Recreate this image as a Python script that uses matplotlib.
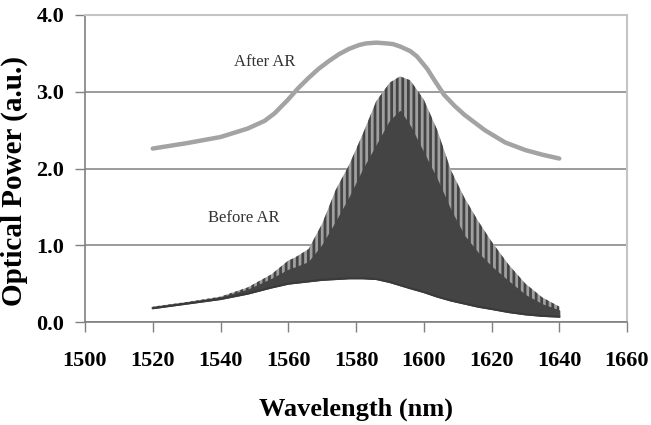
import matplotlib
matplotlib.use("Agg")
import matplotlib.pyplot as plt

plt.rcParams['font.family'] = ['Liberation Serif', 'DejaVu Serif']
plt.rcParams['hatch.linewidth'] = 2.0

# After AR spectrum (smooth)
after_nm = [1520, 1530, 1540, 1548, 1553, 1556, 1560, 1563, 1566, 1569, 1572, 1575, 1578,
            1581, 1583, 1586, 1589, 1591, 1593, 1596, 1598, 1601, 1603, 1606, 1609, 1612,
            1615, 1618, 1621, 1624, 1627, 1630, 1635, 1640]
after_pw = [2.26, 2.33, 2.41, 2.52, 2.62, 2.72, 2.90, 3.05, 3.18, 3.30, 3.40, 3.49, 3.56,
            3.61, 3.63, 3.64, 3.63, 3.62, 3.59, 3.53, 3.46, 3.30, 3.16, 2.96, 2.82, 2.70,
            2.60, 2.50, 2.42, 2.34, 2.29, 2.24, 2.18, 2.13]

# Before AR spectrum (Fabry-Perot fringes): envelopes
before_nm = [1520, 1530, 1540, 1548, 1555, 1560, 1562, 1566, 1570, 1574, 1578, 1582, 1586,
             1590, 1593, 1596, 1600, 1604, 1608, 1612, 1616, 1620, 1625, 1630, 1635, 1640]
before_top = [0.20, 0.26, 0.33, 0.45, 0.62, 0.80, 0.84, 0.95, 1.28, 1.72, 2.05, 2.45, 2.88,
              3.12, 3.20, 3.15, 2.90, 2.50, 1.98, 1.62, 1.32, 1.05, 0.75, 0.50, 0.32, 0.20]
before_core = [0.19, 0.25, 0.32, 0.42, 0.56, 0.68, 0.71, 0.78, 1.00, 1.30, 1.62, 1.98, 2.30,
               2.62, 2.75, 2.55, 2.20, 1.85, 1.45, 1.12, 0.90, 0.72, 0.53, 0.35, 0.23, 0.15]
before_low = [0.18, 0.24, 0.30, 0.37, 0.45, 0.50, 0.51, 0.53, 0.55, 0.56, 0.57, 0.57, 0.56,
              0.52, 0.48, 0.44, 0.39, 0.33, 0.28, 0.24, 0.20, 0.17, 0.13, 0.10, 0.08, 0.07]

x_ticks = [1500, 1520, 1540, 1560, 1580, 1600, 1620, 1640, 1660]
y_ticks = [0.0, 1.0, 2.0, 3.0, 4.0]

fig = plt.figure(figsize=(6.51, 4.25), dpi=100)
ax = fig.add_axes([85 / 651, 1 - 322 / 425, 542 / 651, 307 / 425])

# fringes: dark body, striped light-gray tops
ax.fill_between(before_nm, before_low, before_top, facecolor='#a0a0a0',
                edgecolor='#444444', hatch='|||', linewidth=0, zorder=2)
ax.fill_between(before_nm, before_low, before_core, facecolor='#444444',
                edgecolor='#444444', linewidth=0.8, zorder=3)
ax.plot(before_nm, before_low, color='#3a3a3a', lw=1.5, zorder=3)

ax.plot(after_nm, after_pw, color='#a3a3a3', lw=3.2, solid_capstyle='round', zorder=4)

ax.text(1553, 3.39, 'After AR', fontsize=12, ha='center', va='center', color='#333333')
ax.text(1547, 1.35, 'Before AR', fontsize=12, ha='center', va='center', color='#333333')

ax.set_xlim(1500, 1660)
ax.set_ylim(0, 4.0)
ax.set_xticks(x_ticks)
ax.set_xticklabels([str(v) for v in x_ticks])
ax.set_yticks(y_ticks)
ax.set_yticklabels([f'{v:.1f}' for v in y_ticks])
ax.tick_params(axis='both', direction='out', length=7, color='#808080',
               labelsize=16, width=1)
ax.tick_params(axis='x', pad=14)
ax.tick_params(axis='y', pad=8)
for lab in ax.get_xticklabels() + ax.get_yticklabels():
    lab.set_fontweight('bold')

ax.set_axisbelow(True)
ax.yaxis.grid(True, color='#8a8a8a', lw=1.2)
for side in ['left', 'bottom']:
    ax.spines[side].set_color('#808080')
    ax.spines[side].set_linewidth(1.2)
for side in ['top', 'right']:
    ax.spines[side].set_color('#c4c4c4')
    ax.spines[side].set_linewidth(1.5)

ax.set_xlabel('Wavelength (nm)', fontsize=19, fontweight='bold')
ax.set_ylabel('Optical Power (a.u.)', fontsize=21, fontweight='bold')
ax.xaxis.set_label_coords(0.5, -0.245)
ax.yaxis.set_label_coords(-0.105, 0.46)

fig.savefig('out.png', dpi=100)
